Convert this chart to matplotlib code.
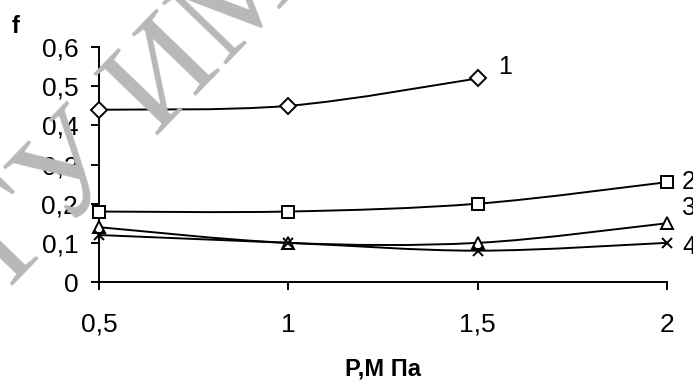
import matplotlib
matplotlib.use("Agg")
import matplotlib.pyplot as plt
from matplotlib.path import Path
from matplotlib.patches import PathPatch

plt.rcParams['font.family'] = ['Liberation Sans', 'DejaVu Sans']

# pressure, MPa
p1 = [0.5, 1.0, 1.5]
p_all = [0.5, 1.0, 1.5, 2.0]
f1 = [0.44, 0.45, 0.52]
f2 = [0.18, 0.18, 0.20, 0.255]
f3 = [0.14, 0.10, 0.10, 0.15]
f4 = [0.12, 0.10, 0.08, 0.10]
markers = ['D', 's', '^', 'x']
curve_labels = ['1', '2', '3', '4']
xticks = [0.5, 1.0, 1.5, 2.0]
xtick_labels = ['0,5', '1', '1,5', '2']
yticks = [0, 0.1, 0.2, 0.3, 0.4, 0.5, 0.6]
ytick_labels = ['0', '0,1', '0,2', '0,3', '0,4', '0,5', '0,6']


def smooth_path(xs, ys):
    # excel-like smoothed line: cubic bezier segments through the points
    pts = list(zip(xs, ys))
    n = len(pts)
    verts = [pts[0]]
    codes = [Path.MOVETO]
    for i in range(n - 1):
        p0 = pts[max(i - 1, 0)]
        a = pts[i]
        b = pts[i + 1]
        p3 = pts[min(i + 2, n - 1)]
        c1 = (a[0] + (b[0] - p0[0]) / 6, a[1] + (b[1] - p0[1]) / 6)
        c2 = (b[0] - (p3[0] - a[0]) / 6, b[1] - (p3[1] - a[1]) / 6)
        verts += [c1, c2, b]
        codes += [Path.CURVE4] * 3
    return Path(verts, codes)


fig = plt.figure(figsize=(6.93, 3.83), dpi=100)
ax = fig.add_axes([0.1429, 0.2637, 0.8196, 0.6133])
ax.patch.set_alpha(0)

# watermark behind the plot
fig.text(0.195, 0.71, 'ГУ ИМ', fontsize=98, color='#b8b8b8',
         family='Liberation Serif', rotation=46, rotation_mode='anchor',
         ha='center', va='center', zorder=0)

series = [(p1, f1), (p_all, f2), (p_all, f3), (p_all, f4)]
for (xs, ys), m in zip(series, markers):
    ax.add_patch(PathPatch(smooth_path(xs, ys), fill=False, edgecolor='black',
                           lw=1.4, clip_on=False, zorder=3))
    if m == 'x':
        ax.plot(xs, ys, ls='none', marker=m, ms=7.5, mew=1.4, color='black',
                clip_on=False, zorder=4)
    else:
        ax.plot(xs, ys, ls='none', marker=m, ms=8.5 if m == 'D' else 9,
                mfc='white', mec='black', mew=1.4, clip_on=False, zorder=4)

ax.text(1.555, 0.55, curve_labels[0], fontsize=18, va='center')
label_y = [0.255, 0.19, 0.089]
for lab, y in zip(curve_labels[1:], label_y):
    ax.text(2.04, y, lab, fontsize=18, va='center', clip_on=False)

ax.set_xlim(0.5, 2.0)
ax.set_ylim(0, 0.6)
ax.set_xticks(xticks)
ax.set_xticklabels(xtick_labels)
ax.set_yticks(yticks)
ax.set_yticklabels(ytick_labels)
ax.tick_params(axis='both', labelsize=19, direction='out', width=1.4,
               length=6, color='black')
ax.tick_params(axis='x', pad=16)
ax.tick_params(axis='y', pad=9)
for s in ['top', 'right']:
    ax.spines[s].set_visible(False)
for s in ['left', 'bottom']:
    ax.spines[s].set_linewidth(1.4)

ax.set_xlabel('P,М Па', fontsize=17, fontweight='bold', labelpad=15)
fig.text(0.017, 0.915, 'f', fontsize=17, fontweight='bold')

fig.savefig('out.png', dpi=100)
